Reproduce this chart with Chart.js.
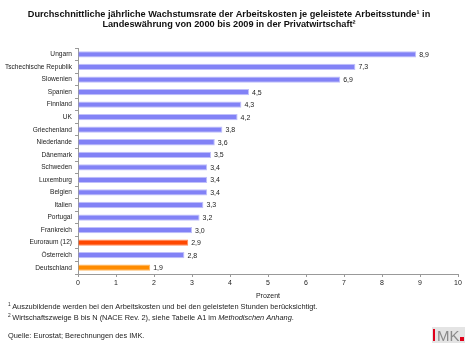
<!DOCTYPE html>
<html lang="de">
<head>
<meta charset="utf-8">
<script src="https://cdn.jsdelivr.net/npm/chart.js@4/dist/chart.umd.min.js"></script>
<style>
  body { margin: 0; background: #fff; }
  #wrap { position: absolute; left: 0; top: 0; width: 470px; height: 347px; }
</style>
</head>
<body>
<div id="wrap"><canvas id="chart"></canvas></div>
<script>
const countries = ["Ungarn", "Tschechische Republik", "Slowenien", "Spanien", "Finnland", "UK",
  "Griechenland", "Niederlande", "Dänemark", "Schweden", "Luxemburg", "Belgien", "Italien",
  "Portugal", "Frankreich", "Euroraum (12)", "Österreich", "Deutschland"];
const growth = [8.9, 7.3, 6.9, 4.5, 4.3, 4.2, 3.8, 3.6, 3.5, 3.4, 3.4, 3.4, 3.3, 3.2, 3.0, 2.9, 2.8, 1.9];
const xTicks = [0, 1, 2, 3, 4, 5, 6, 7, 8, 9, 10];

const FONT = "'Liberation Sans', Arial, sans-serif";
const fill = countries.map(c => c === "Euroraum (12)" ? "#ff4800" : c === "Deutschland" ? "#ff8c00" : "#8282f6");
const edge = countries.map(c => c === "Euroraum (12)" ? "#ff8a5a" : c === "Deutschland" ? "#ffb860" : "#c0c0fb");

const fmt = v => v.toFixed(1).replace(".", ",");

// value labels at the end of each bar
const valueLabels = {
  id: "valueLabels",
  afterDatasetsDraw(chart) {
    const ctx = chart.ctx;
    const meta = chart.getDatasetMeta(0);
    ctx.save();
    ctx.font = "7px " + FONT;
    ctx.fillStyle = "#222";
    ctx.textBaseline = "middle";
    meta.data.forEach((bar, i) => {
      ctx.fillText(fmt(growth[i]), bar.x + 3, bar.y + 0.5);
    });
    ctx.restore();
  }
};

// draws a line made of [text, italic] pieces, with a small superscript mark in front
function noteLine(ctx, x, y, sup, parts) {
  if (sup) {
    ctx.font = "4.8px " + FONT;
    ctx.fillText(sup, x, y - 2.5);
    x += ctx.measureText(sup).width + 1.5;
  }
  parts.forEach(([t, it]) => {
    ctx.font = (it ? "italic " : "") + "7.4px " + FONT;
    ctx.fillText(t, x, y);
    x += ctx.measureText(t).width;
  });
}

// footnotes, source line and the IMK mark below the plot
const footer = {
  id: "footer",
  afterDraw(chart) {
    const ctx = chart.ctx;
    ctx.save();
    ctx.fillStyle = "#222";
    ctx.textBaseline = "middle";
    noteLine(ctx, 8, 307, "1", [["Auszubildende werden bei den Arbeitskosten und bei den geleisteten Stunden berücksichtigt.", false]]);
    noteLine(ctx, 8, 318, "2", [["Wirtschaftszweige B bis N (NACE Rev. 2), siehe Tabelle A1 im ", false], ["Methodischen Anhang", true], [".", false]]);
    noteLine(ctx, 8, 336, "", [["Quelle: Eurostat; Berechnungen des IMK.", false]]);

    ctx.fillStyle = "#e4e4e4";
    ctx.fillRect(432, 327, 33, 16);
    ctx.fillStyle = "#e0001a";
    ctx.fillRect(433, 329, 2, 12);
    ctx.fillRect(460, 337, 4, 4);
    ctx.fillStyle = "#8a8a8a";
    ctx.font = "15px " + FONT;
    ctx.textBaseline = "alphabetic";
    ctx.fillText("MK", 437, 341);
    ctx.restore();
  }
};

new Chart(document.getElementById("chart"), {
  type: "bar",
  data: {
    labels: countries,
    datasets: [{
      data: growth,
      backgroundColor: fill,
      borderColor: edge,
      borderWidth: 1,
      barPercentage: 0.5,
      categoryPercentage: 1
    }]
  },
  options: {
    indexAxis: "y",
    responsive: true,
    maintainAspectRatio: false,
    animation: false,
    layout: { padding: { left: 0, right: 12, top: 0, bottom: 47 } },
    plugins: {
      legend: { display: false },
      tooltip: { enabled: false },
      title: {
        display: true,
        text: ["Durchschnittliche jährliche Wachstumsrate der Arbeitskosten je geleistete Arbeitsstunde¹ in",
               "Landeswährung von 2000 bis 2009 in der Privatwirtschaft²"],
        color: "#111",
        font: { family: FONT, size: 9.2, weight: "bold", lineHeight: 1.15 },
        padding: { top: 9, bottom: 18 }
      }
    },
    scales: {
      x: {
        min: 0,
        max: 10,
        afterBuildTicks: s => { s.ticks = xTicks.map(v => ({ value: v })); },
        afterFit: s => { s.height = 26; },
        border: { color: "#999", width: 1 },
        grid: { drawOnChartArea: false, tickLength: 3, color: "#999" },
        ticks: { color: "#222", padding: 2, font: { family: FONT, size: 7 } },
        title: { display: true, text: "Prozent", color: "#222", padding: 0,
                 font: { family: FONT, size: 7 } }
      },
      y: {
        afterFit: s => { s.width = 78; },
        border: { color: "#999", width: 1 },
        grid: { drawOnChartArea: false, offset: true, tickLength: 3, color: "#999" },
        ticks: { color: "#222", padding: 3, autoSkip: false,
                 font: { family: FONT, size: 6.6 } }
      }
    }
  },
  plugins: [valueLabels, footer]
});
</script>
</body>
</html>
